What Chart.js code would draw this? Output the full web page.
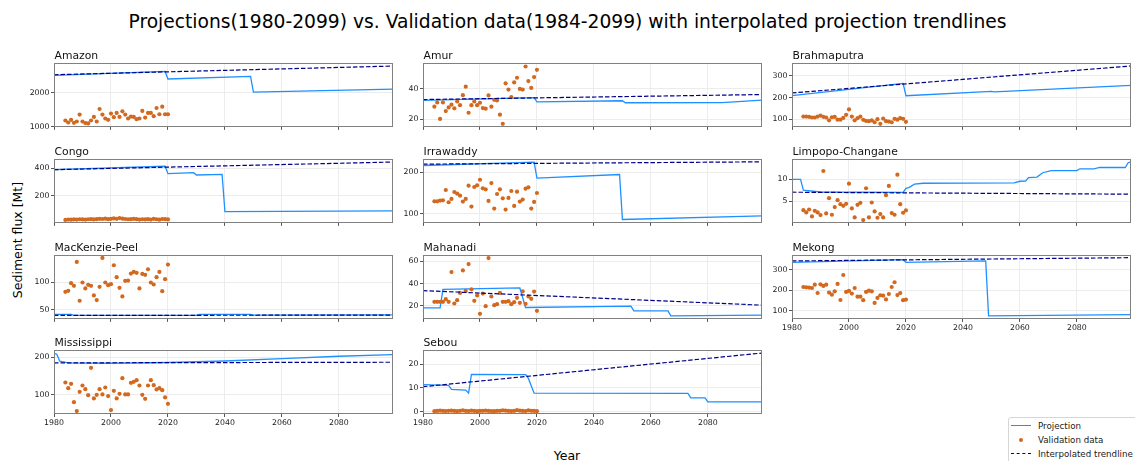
<!DOCTYPE html>
<html><head><meta charset="utf-8">
<script src="https://cdn.jsdelivr.net/npm/chart.js@4.4.1/dist/chart.umd.min.js"></script>
<style>
html,body{margin:0;padding:0;background:#fff;}
body{width:1135px;height:461px;overflow:hidden;position:relative;font-family:"DejaVu Sans",sans-serif;color:#111;}
canvas{position:absolute;}
.t{position:absolute;white-space:nowrap;line-height:1;}
#legend{position:absolute;left:1008px;top:417px;width:140px;height:60px;border:1px solid #d6d6d6;border-radius:3px;background:#fff;box-sizing:border-box;}
.li{position:absolute;left:29px;font-size:8.7px;line-height:1;white-space:nowrap;color:#1a1a1a;}
.ls{position:absolute;left:2px;width:20px;height:0;}
</style></head><body>
<div class="t" style="left:0;width:1135px;text-align:center;top:13px;font-size:18.7px;color:#000">Projections(1980-2099) vs. Validation data(1984-2099) with interpolated projection trendlines</div>
<div class="t" style="left:18px;top:240px;font-size:12.5px;color:#000;transform:translate(-50%,-50%) rotate(-90deg);">Sediment flux [Mt]</div>
<div class="t" style="left:567px;top:456px;font-size:12.5px;color:#000;transform:translate(-50%,-50%);">Year</div>
<div id="legend">
  <div class="ls" style="top:7px;border-top:1.4px solid #1E90FF;"></div>
  <div class="li" style="top:3.5px">Projection</div>
  <div class="ls" style="top:20px;left:10px;width:4px;height:4px;border-radius:50%;background:#D2691E;"></div>
  <div class="li" style="top:17.5px">Validation data</div>
  <div class="ls" style="top:35px;border-top:1.3px dashed #00008B;"></div>
  <div class="li" style="top:31.5px">Interpolated trendline</div>
</div>
<script>
// ---------------- DATA ----------------
const validationYears = [1984,1985,1986,1987,1988,1989,1990,1991,1992,1993,1994,1995,1996,1997,1998,1999,2000,2001,2002,2003,2004,2005,2006,2007,2008,2009,2010,2011,2012,2013,2014,2015,2016,2017,2018,2019,2020];
const trendYears = [1980, 2099];
const xTickLabels = [1980, 2000, 2020, 2040, 2060, 2080];
const xRange = [1980, 2099];

// Amazon
const projAmazon = [[1980,2515],[2019,2631],[2020,2408],[2049,2485],[2050,2019],[2099,2107]];
const valAmazon = [1184,1126,1204,1117,1155,1359,1155,1107,1097,1184,1291,1155,1524,1359,1243,1204,1388,1282,1408,1291,1456,1359,1243,1301,1291,1223,1243,1466,1272,1408,1408,1311,1553,1369,1592,1369,1369];
const trendAmazon = [2534, 2790];
const yTicksAmazon = [1000, 2000];
const yRangeAmazon = [998, 2875];

// Amur
const projAmur = [[1980,32.4],[2019,34.3],[2020,31.5],[2050,32.2],[2051,30.9],[2085,31.0],[2099,32.6]];
const valAmur = [28.3,31.1,20.2,31.1,25.4,27.8,29.6,27.2,31.7,29.3,35.9,41.5,24.3,29.3,31.7,29.3,30.9,27.4,27.0,35.7,28.3,32.8,32.4,23.0,17.0,43.7,39.6,34.6,44.3,47.4,40.0,39.6,54.8,45.2,40.7,47.8,52.6];
const trendAmur = [33.0, 36.3];
const yTicksAmur = [20, 40];
const yRangeAmur = [15, 57];

// Brahmaputra
const projBrahmaputra = [[1980,209],[2019,265],[2020,208],[2050,228],[2051,226],[2099,256]];
const valBrahmaputra = [112,112,111,108,108,112,117,111,108,95,109,111,98,98,106,120,145,112,95,105,112,97,92,91,95,86,100,79,103,91,89,86,102,98,105,102,88];
const trendBrahmaputra = [221, 345];
const yTicksBrahmaputra = [100, 200, 300];
const yRangeBrahmaputra = [65, 358];

// Congo
const projCongo = [[1980,390],[2019,415],[2020,361],[2029,368],[2030,351],[2039,356],[2040,83],[2099,88]];
const valCongo = [22,25,24,26,25,27,26,25,27,28,26,28,30,29,31,28,30,33,30,36,31,29,27,28,30,28,25,27,26,28,25,30,27,24,29,28,26];
const trendCongo = [390, 446];
const yTicksCongo = [200, 400];
const yRangeCongo = [1, 467];

// Irrawaddy
const projIrrawaddy = [[1980,216.8],[2019,224.8],[2020,186.4],[2049,195],[2050,86.4],[2099,95.2]];
const valIrrawaddy = [130.4,130.4,132,132.8,157.6,128,136,152.8,148.8,144,129.6,136,168,117.6,164.8,168.8,182.4,161.6,159.2,131.2,174.4,112.8,148,159.2,137.6,110.4,138.4,155.2,119.2,153.6,129.6,134.4,160.8,164,112.8,128.8,150.4];
const trendIrrawaddy = [220, 225.6];
const yTicksIrrawaddy = [100, 200];
const yRangeIrrawaddy = [78.4, 232];

// Limpopo-Changane
const projLimpopo = [[1980,10],[1983,10],[1984,7.5],[1990,7.1],[2019,7.0],[2020,7.95],[2021,8.1],[2023,8.9],[2026,9.1],[2058,9.2],[2060,9.55],[2062,9.6],[2063,10.4],[2066,10.5],[2068,11.5],[2071,12],[2080,12],[2081,12.4],[2086,12.4],[2088,12.7],[2097,12.7],[2098,13.8],[2099,14.0]];
const valLimpopo = [2.95,2.42,3.1,1.52,2.8,2.42,1.82,11.9,2.2,5.68,1.89,3.64,5.23,4.32,3.94,4.39,9.0,3.33,1.29,4.17,4.62,0.68,7.95,1.29,4.7,2.65,1.21,2.05,1.29,6.36,8.48,2.27,1.89,11.06,4.32,2.35,2.88];
const trendLimpopo = [7.05, 6.6];
const yTicksLimpopo = [5, 10];
const yRangeLimpopo = [0.05, 14.6];

// MacKenzie-Peel
const projMacKenzie = [[1980,41.7],[1986,41.7],[1987,39.8],[2030,40.0],[2031,41.5],[2049,41.5],[2050,40.2],[2099,40.6]];
const valMacKenzie = [82.5,84.3,98.2,93.4,136.7,66.3,99.4,88.6,95.2,93.4,75.9,67.5,91.6,144,99.4,94.6,96.4,130.7,109,89.8,74.1,102.4,103,115.7,118.7,116.9,88.6,115,113.3,123.5,99.4,95.8,109,118.7,83.7,105.4,131.9];
const trendMacKenzie = [39.6, 40.3];
const yTicksMacKenzie = [50, 100];
const yRangeMacKenzie = [33.5, 149];

// Mahanadi
const projMahanadi = [[1980,18.2],[1986,18.2],[1987,34.9],[2014,36.1],[2016,18.5],[2053,19.7],[2054,15.5],[2066,15.5],[2067,11.0],[2099,11.6]];
const valMahanadi = [23.6,23.6,23.6,23.6,26,23.6,50.4,22.1,25.1,31.6,51.9,33.4,57.6,34.9,24.5,29.3,12.8,31,19.7,63,28.4,20.6,21.5,31.6,23.6,23.6,24.2,21.5,23.3,27.2,22.7,33.1,21.8,28.4,26.3,32.8,15.5];
const trendMahanadi = [33.7, 20.6];
const yTicksMahanadi = [20, 40, 60];
const yRangeMahanadi = [8.3, 65.6];

// Mekong
const projMekong = [[1980,335.5],[2019,348],[2020,335.5],[2048,342],[2049,76],[2099,82]];
const valMekong = [216,214.5,213,211,227,187,229,221,227,189,179,195,231,153,274,192,197,184,211,169,169,152,192,198,195,139,163,176,174,156,182,216,239,177,187,152,155];
const trendMekong = [342, 358];
const yTicksMekong = [100, 200, 300];
const yRangeMekong = [61, 370];

// Mississippi
const projMississippi = [[1980,210.6],[1981,208],[1982,189.4],[1985,185],[2000,184],[2020,186],[2040,190],[2060,196.5],[2080,202.7],[2099,207]];
const valMississippi = [132.7,117.7,129.2,80.5,56.6,108,124.8,115,99.1,171.7,90.3,100,115,100.9,119.5,96.5,59.3,110.6,90.3,102.7,144.2,100.9,100.9,131.9,134.5,138.9,124.8,100,89.4,124.8,138.9,125.7,114.2,117.7,112.4,92.9,76.1];
const trendMississippi = [185, 186.7];
const yTicksMississippi = [100, 200];
const yRangeMississippi = [48.9, 218.8];

// Sebou
const projSebou = [[1980,11.35],[1989,11.1],[1990,9.36],[1995,9.1],[1996,7.8],[1997,15.7],[2016,15.6],[2017,14.0],[2019,7.8],[2073,7.66],[2074,5.8],[2079,5.8],[2080,4.1],[2099,4.1]];
const valSebou = [0.2,0.3,0.4,0.3,0.25,0.35,0.4,0.3,0.2,0.35,0.5,0.3,0.25,0.4,0.3,0.2,0.3,0.35,0.4,0.3,0.25,0.2,0.3,0.35,0.5,0.4,0.3,0.25,0.3,0.6,0.4,0.3,0.25,0.5,0.35,0.3,0.2];
const trendSebou = [10.5, 24.7];
const yTicksSebou = [0, 10, 20];
const yRangeSebou = [-1.0, 25.9];

const rivers = [
  {name:'Amazon', proj:projAmazon, val:valAmazon, trend:trendAmazon, ticks:yTicksAmazon, range:yRangeAmazon},
  {name:'Amur', proj:projAmur, val:valAmur, trend:trendAmur, ticks:yTicksAmur, range:yRangeAmur},
  {name:'Brahmaputra', proj:projBrahmaputra, val:valBrahmaputra, trend:trendBrahmaputra, ticks:yTicksBrahmaputra, range:yRangeBrahmaputra},
  {name:'Congo', proj:projCongo, val:valCongo, trend:trendCongo, ticks:yTicksCongo, range:yRangeCongo},
  {name:'Irrawaddy', proj:projIrrawaddy, val:valIrrawaddy, trend:trendIrrawaddy, ticks:yTicksIrrawaddy, range:yRangeIrrawaddy},
  {name:'Limpopo-Changane', proj:projLimpopo, val:valLimpopo, trend:trendLimpopo, ticks:yTicksLimpopo, range:yRangeLimpopo},
  {name:'MacKenzie-Peel', proj:projMacKenzie, val:valMacKenzie, trend:trendMacKenzie, ticks:yTicksMacKenzie, range:yRangeMacKenzie},
  {name:'Mahanadi', proj:projMahanadi, val:valMahanadi, trend:trendMahanadi, ticks:yTicksMahanadi, range:yRangeMahanadi},
  {name:'Mekong', proj:projMekong, val:valMekong, trend:trendMekong, ticks:yTicksMekong, range:yRangeMekong},
  {name:'Mississippi', proj:projMississippi, val:valMississippi, trend:trendMississippi, ticks:yTicksMississippi, range:yRangeMississippi},
  {name:'Sebou', proj:projSebou, val:valSebou, trend:trendSebou, ticks:yTicksSebou, range:yRangeSebou}
];

// ---------------- LAYOUT ----------------
const COL_LEFT = [54, 423, 792];
const ROW_TOP = [63, 159, 255, 350];
const PLOT_W = 339, PLOT_H = 64;
const YW = 34, PT = 6, PR = 4, XH = 6, XH_LAB = 16;
const FONT = '"DejaVu Sans", sans-serif';
const TXT = '#1a1a1a';
const GRID = '#ececec';
const TICKC = '#555';

const boxPlugin = {
  id: 'box',
  afterDraw(chart) {
    const {ctx, chartArea: a} = chart;
    ctx.save();
    ctx.strokeStyle = '#808080';
    ctx.lineWidth = 1;
    ctx.strokeRect(Math.round(a.left) + 0.5, Math.round(a.top) + 0.5, Math.round(a.right - a.left) - 1, Math.round(a.bottom - a.top) - 1);
    ctx.restore();
  }
};

rivers.forEach((r, i) => {
  const col = i % 3, row = Math.floor(i / 3);
  const showX = row === 3 || i === 8;
  const xh = showX ? XH_LAB : XH;
  const W = PLOT_W + YW + PR, H = PLOT_H + PT + xh;
  const c = document.createElement('canvas');
  c.width = W; c.height = H;
  c.style.width = W + 'px'; c.style.height = H + 'px';
  c.style.left = (COL_LEFT[col] - YW) + 'px';
  c.style.top = (ROW_TOP[row] - PT) + 'px';
  document.body.appendChild(c);

  const title = document.createElement('div');
  title.className = 't';
  title.style.left = (COL_LEFT[col] + 0.5) + 'px';
  title.style.top = (ROW_TOP[row] - 12) + 'px';
  title.style.fontSize = '10.8px';
  title.style.color = '#111';
  title.textContent = r.name;
  document.body.appendChild(title);

  new Chart(c, {
    type: 'scatter',
    data: {
      datasets: [
        {label: 'Interpolated trendline', data: trendYears.map((x, k) => ({x, y: r.trend[k]})), showLine: true,
         borderColor: '#00008B', borderWidth: 1.2, borderDash: [4.5, 2], pointRadius: 0, order: 0},
        {label: 'Validation data', data: validationYears.map((x, k) => ({x, y: r.val[k]})),
         pointRadius: 2.1, backgroundColor: '#D2691E', borderWidth: 0, order: 1},
        {label: 'Projection', data: r.proj.map(p => ({x: p[0], y: p[1]})), showLine: true,
         borderColor: '#1E90FF', borderWidth: 1.3, pointRadius: 0, tension: 0, order: 2}
      ]
    },
    options: {
      responsive: false, animation: false, events: [],
      layout: {padding: {top: PT, right: PR, left: 0, bottom: 0}},
      plugins: {legend: {display: false}, tooltip: {enabled: false}, title: {display: false}},
      scales: {
        x: {
          type: 'linear', min: xRange[0], max: xRange[1],
          afterBuildTicks: s => { s.ticks = xTickLabels.map(v => ({value: v})); },
          afterFit: s => { s.height = xh; },
          grid: {color: GRID, tickColor: TICKC, tickLength: 3, lineWidth: 1},
          border: {display: false},
          ticks: {display: showX, font: {family: FONT, size: 7.8}, color: TXT, padding: 1, maxRotation: 0, autoSkip: false, callback: v => String(v)}
        },
        y: {
          type: 'linear', min: r.range[0], max: r.range[1],
          afterBuildTicks: s => { s.ticks = r.ticks.map(v => ({value: v})); },
          afterFit: s => { s.width = YW; },
          grid: {color: GRID, tickColor: TICKC, tickLength: 3, lineWidth: 1},
          border: {display: false},
          ticks: {font: {family: FONT, size: 7.8}, color: TXT, padding: 1.5, autoSkip: false, callback: v => String(v)}
        }
      }
    },
    plugins: [boxPlugin]
  });
});
</script>
</body></html>
